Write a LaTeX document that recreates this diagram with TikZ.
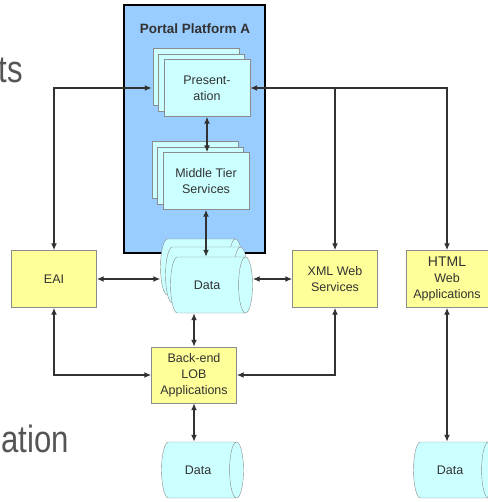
\documentclass[tikz,border=0pt]{standalone}
\usepackage{fontspec}
\setmainfont{Liberation Sans}
\newfontfamily\slidefont[FakeStretch=0.82]{Liberation Sans}
\usetikzlibrary{shapes.geometric,shadows,arrows.meta}

\definecolor{portalblue}{RGB}{153,204,255}
\definecolor{stackcyan}{RGB}{204,255,255}
\definecolor{boxyellow}{RGB}{255,255,153}
\definecolor{edgegray}{RGB}{140,140,140}
\definecolor{inkgray}{RGB}{50,50,50}
\definecolor{slidegray}{RGB}{85,85,85}

\begin{document}
\begin{tikzpicture}[x=1pt,y=-1pt,
    >={Latex[length=7pt,width=6pt]},
    every node/.style={font=\fontsize{12.5}{16}\selectfont, text=inkgray, align=center},
    appbox/.style={draw=edgegray, fill=boxyellow, minimum width=85pt, minimum height=57pt, inner sep=1pt},
    tierstack/.style={draw=edgegray, fill=stackcyan, minimum width=86pt, minimum height=57pt, inner sep=1pt,
      copy shadow={shadow xshift=-11pt, shadow yshift=11pt, draw=edgegray, fill=stackcyan, thin},
      copy shadow={shadow xshift=-5.5pt, shadow yshift=5.5pt, draw=edgegray, fill=stackcyan, thin}},
    datastore/.style={cylinder, draw=edgegray, fill=stackcyan, minimum width=56pt, minimum height=82pt,
      aspect=1.3, inner sep=1pt},
    datastack/.style={datastore,
      copy shadow={shadow xshift=-10pt, shadow yshift=18pt, draw=edgegray, fill=stackcyan, thin},
      copy shadow={shadow xshift=-5pt, shadow yshift=10pt, draw=edgegray, fill=stackcyan, thin}},
    link/.style={draw=inkgray, line width=1.6pt},
    slidetext/.style={font=\slidefont\fontsize{38}{40}\selectfont, text=slidegray, inner sep=0pt},
  ]
  \useasboundingbox (0,0) rectangle (487,502);

  % slide text behind the diagram
  \node[slidetext, anchor=base east] (fragtop) at (23,83) {ts};
  \node[slidetext, anchor=base east] (fragbottom) at (69,452) {ation};

  % portal platform
  \draw[line width=1.6pt, fill=portalblue] (124,5) rectangle (265,253);
  \node[font=\bfseries\fontsize{13.5}{15}\selectfont] (portal) at (195,29) {Portal Platform A};

  % tiers of the portal
  \node[tierstack] (pres) at (207,88) {Present-\\ation};
  \node[tierstack] (mid) at (206,181) {Middle Tier\\Services};
  \node[datastack] (data) at (207,285) {Data};
  \coordinate (databack) at ([xshift=-10pt]data.west);

  % applications
  \node[appbox] (eai) at (54,279) {EAI};
  \node[appbox] (xml) at (335,279) {XML Web\\Services};
  \node[appbox, minimum width=82pt] (html) at (447,279) {{\fontsize{14}{16}\selectfont HTML}\\Web\\Applications};
  \node[appbox, minimum height=56pt] (lob) at (194,375) {Back-end\\LOB\\Applications};

  % back-end data
  \node[datastore] (lobdata) at (198,470) {Data};
  \node[datastore] (webdata) at (450,470) {Data};

  % links to presentation
  \draw[link, <->] (eai.north) |- ([xshift=-12pt]pres.west);
  \draw[link, <->] (pres.east) -| (html.north);
  \draw[link, ->] (xml.north |- pres.east) -- (xml.north);
  \draw[link, <->] (pres.south) -- (pres.south |- mid.north);
  \draw[link, <->] (mid.south) -- (mid.south |- data.north);

  % links around data
  \draw[link, <->] (eai.east) -- (eai.east -| databack);
  \draw[link, <->] (xml.west -| data.east) -- (xml.west);
  \draw[link, <->] (lob.north |- data.south) -- (lob.north);
  \draw[link, <->] (eai.south) |- (lob.west);
  \draw[link, <->] (xml.south) |- (lob.east);
  \draw[link, <->] (lob.south) -- (lob.south |- lobdata.north);
  \draw[link, <->] (html.south) -- (html.south |- webdata.north);
\end{tikzpicture}
\end{document}
